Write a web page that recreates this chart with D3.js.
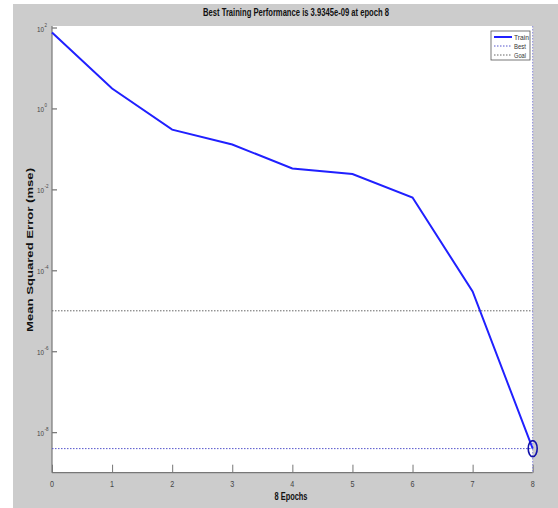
<html lang="en">
<head>
<meta charset="UTF-8">
<script src="https://d3js.org/d3.v7.min.js"></script>
<title>Best Training Performance</title>
<style>
  body { margin: 0; background: #fff; }
  text { font-family: "Liberation Sans Narrow", "Liberation Sans", Arial, sans-serif; }
</style>
<script>
// data
var epochs = [0, 1, 2, 3, 4, 5, 6, 7, 8];
var trainPerf = [75, 3.1, 0.30, 0.128, 0.033, 0.024, 0.0063, 3.0e-5, 3.9345e-9];
var bestEpoch = 8;
var bestPerf = 3.9345e-9;
var goalPerf = 1e-5;
var xTicks = [0, 1, 2, 3, 4, 5, 6, 7, 8];
var yTickExps = [2, 0, -2, -4, -6, -8];
var legendNames = ["Train", "Best", "Goal"];

function main(){
  var svg = d3.select("svg");
  var left = 52, right = 532.7, top = 26, bottom = 472.7;

  svg.append("rect").attr("x", 13).attr("y", 4).attr("width", 545).attr("height", 504)
    .attr("fill", "#cccccc");
  svg.append("rect").attr("x", left).attr("y", top).attr("width", right - left).attr("height", bottom - top)
    .attr("fill", "#ffffff");

  var x = d3.scaleLinear().domain([0, 8]).range([left, right]);
  var y = d3.scaleLog().domain([1e-9, 1e2]).range([bottom, 27.5]);

  // axes (MATLAB style: ticks pointing inward)
  var xAxis = svg.append("g").attr("transform", "translate(0," + bottom + ")")
    .call(d3.axisTop(x).tickValues(xTicks).tickSize(8).tickFormat(""));
  xAxis.select(".domain").remove();
  xAxis.selectAll("line").attr("stroke", "#777");
  svg.selectAll(".xlab").data(xTicks).enter().append("text")
    .attr("x", function(d){ return x(d); }).attr("y", 487)
    .attr("text-anchor", "middle").attr("font-size", 9).attr("fill", "#444")
    .attr("textLength", 4).attr("lengthAdjust", "spacingAndGlyphs")
    .text(function(d){ return d; });

  var yAxis = svg.append("g").attr("transform", "translate(" + left + ",0)")
    .call(d3.axisRight(y).tickValues(yTickExps.map(function(e){ return Math.pow(10, e); })).tickSize(5).tickFormat(""));
  yAxis.select(".domain").remove();
  yAxis.selectAll("line").attr("stroke", "#555");
  svg.selectAll(".ybase").data(yTickExps).enter().append("text")
    .attr("x", 44).attr("y", function(d){ return y(Math.pow(10, d)) + 4; })
    .attr("text-anchor", "end").attr("font-size", 8).attr("fill", "#444")
    .attr("textLength", 7).attr("lengthAdjust", "spacingAndGlyphs")
    .text("10");
  svg.selectAll(".yexp").data(yTickExps).enter().append("text")
    .attr("x", 44.5).attr("y", function(d){ return y(Math.pow(10, d)) - 1; })
    .attr("font-size", 5.5).attr("fill", "#444")
    .attr("textLength", function(d){ return d < 0 ? 4 : 2.5; }).attr("lengthAdjust", "spacingAndGlyphs")
    .text(function(d){ return d; });

  svg.append("line").attr("x1", left).attr("x2", left).attr("y1", top).attr("y2", bottom)
    .attr("stroke", "#777").attr("stroke-width", 1.2);
  svg.append("line").attr("x1", left).attr("x2", right).attr("y1", bottom).attr("y2", bottom)
    .attr("stroke", "#777").attr("stroke-width", 1.2);

  // goal & best reference lines
  svg.append("line").attr("x1", left).attr("x2", right)
    .attr("y1", y(goalPerf)).attr("y2", y(goalPerf))
    .attr("stroke", "#666").attr("stroke-dasharray", "1.5,1.5");
  svg.append("line").attr("x1", left).attr("x2", right)
    .attr("y1", y(bestPerf)).attr("y2", y(bestPerf))
    .attr("stroke", "#5555cc").attr("stroke-dasharray", "1.5,1.5");
  svg.append("line").attr("x1", x(bestEpoch)).attr("x2", x(bestEpoch))
    .attr("y1", top).attr("y2", bottom)
    .attr("stroke", "#8888dd").attr("stroke-dasharray", "1.5,1.5");

  // train curve
  var line = d3.line().x(function(d, i){ return x(epochs[i]); }).y(function(d){ return y(d); });
  svg.append("path").datum(trainPerf).attr("d", line)
    .attr("fill", "none").attr("stroke", "#2020ff").attr("stroke-width", 2);

  svg.append("ellipse").attr("cx", x(bestEpoch)).attr("cy", y(bestPerf))
    .attr("rx", 4.5).attr("ry", 8)
    .attr("fill", "none").attr("stroke", "#1010aa").attr("stroke-width", 1.6);

  // legend
  var lg = svg.append("g");
  lg.append("rect").attr("x", 491).attr("y", 31).attr("width", 39).attr("height", 29)
    .attr("fill", "#fff").attr("stroke", "#555").attr("stroke-width", 0.8);
  var styles = [
    {stroke: "#2020ff", dash: null, w: 2},
    {stroke: "#5555cc", dash: "1.5,1.5", w: 1},
    {stroke: "#666", dash: "1.5,1.5", w: 1}
  ];
  legendNames.forEach(function(name, i){
    var ly = 37 + i * 9;
    lg.append("line").attr("x1", 494).attr("x2", 512).attr("y1", ly).attr("y2", ly)
      .attr("stroke", styles[i].stroke).attr("stroke-width", styles[i].w)
      .attr("stroke-dasharray", styles[i].dash);
    lg.append("text").attr("x", 514).attr("y", ly + 3).attr("font-size", 8).attr("fill", "#333")
      .attr("textLength", name.length * 3).attr("lengthAdjust", "spacingAndGlyphs")
      .text(name);
  });

  // titles
  svg.append("text").attr("x", 296).attr("y", 16).attr("text-anchor", "middle")
    .attr("font-size", 10).attr("font-weight", "bold").attr("fill", "#111")
    .attr("textLength", 186).attr("lengthAdjust", "spacingAndGlyphs")
    .text("Best Training Performance is 3.9345e-09 at epoch 8");
  svg.append("text").attr("x", 291).attr("y", 500).attr("text-anchor", "middle")
    .attr("font-size", 10).attr("font-weight", "bold").attr("fill", "#111")
    .attr("textLength", 33).attr("lengthAdjust", "spacingAndGlyphs")
    .text("8 Epochs");
  svg.append("text").attr("transform", "translate(33,250) rotate(-90)")
    .attr("text-anchor", "middle").attr("font-size", 9).attr("font-weight", "bold").attr("fill", "#111")
    .attr("textLength", 164).attr("lengthAdjust", "spacingAndGlyphs")
    .text("Mean Squared Error  (mse)");
}
</script>
</head>
<body onload="main();">
  <svg width="558" height="508"></svg>
</body>
</html>
